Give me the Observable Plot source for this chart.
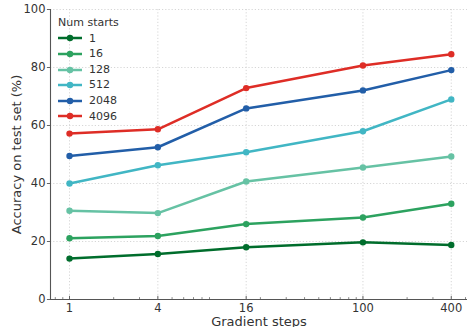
<!DOCTYPE html>
<html>
<head>
<meta charset="utf-8">
<script src="https://cdn.jsdelivr.net/npm/d3@7"></script>
<script src="https://cdn.jsdelivr.net/npm/@observablehq/plot@0.6"></script>
<style>
  html, body { margin: 0; padding: 0; background: #fff; }
  #wrap { position: relative; width: 468px; height: 327px; overflow: hidden; font-family: "DejaVu Sans", sans-serif; }
  #legend { position: absolute; left: 58px; top: 15px; font-size: 11px; color: #333; line-height: 15.6px; }
  #legend .row { display: flex; align-items: center; height: 15.6px; }
  #legend svg { margin-right: 7px; }
</style>
</head>
<body>
<div id="wrap"><div id="legend"></div></div>
<script>
const steps = [1, 4, 16, 100, 400];
const seriesNames = ["1", "16", "128", "512", "2048", "4096"];
const acc1    = [14.1, 15.7, 18.0, 19.7, 18.8];
const acc16   = [21.1, 21.9, 26.0, 28.3, 33.0];
const acc128  = [30.6, 29.8, 40.7, 45.5, 49.3];
const acc512  = [40.0, 46.3, 50.8, 58.0, 69.0];
const acc2048 = [49.5, 52.5, 65.9, 72.1, 79.1];
const acc4096 = [57.2, 58.7, 72.9, 80.7, 84.6];
const colors = ["#006d2c", "#2ca25f", "#66c2a4", "#41b6c4", "#225ea8", "#de2d26"];
const yTicks = [0, 20, 40, 60, 80, 100];
const minorTicks = [0.8, 0.9, 2, 3, 5, 6, 7, 8, 9, 20, 30, 40, 50, 60, 70, 80, 90, 200, 300, 500];
const xLabel = "Gradient steps";
const yLabel = "Accuracy on test set (%)";

const allSeries = [acc1, acc16, acc128, acc512, acc2048, acc4096];
const data = [];
allSeries.forEach((vals, i) => vals.forEach((v, j) => data.push({series: seriesNames[i], step: steps[j], acc: v})));

const xMin = 0.742;
const chart = Plot.plot({
  width: 468,
  height: 327,
  marginLeft: 50,
  marginRight: 1,
  marginTop: 9,
  marginBottom: 28,
  style: {fontFamily: "DejaVu Sans, sans-serif", fontSize: "11px", color: "#333", background: "#fff"},
  x: {type: "log", domain: [xMin, 516], axis: null},
  y: {domain: [0, 100], axis: null},
  color: {domain: seriesNames, range: colors},
  marks: [
    Plot.gridX(steps, {stroke: "#cccccc", strokeOpacity: 1, strokeDasharray: "1.2,2", strokeWidth: 0.8}),
    Plot.gridY(yTicks.filter(d => d > 0), {stroke: "#cccccc", strokeOpacity: 1, strokeDasharray: "1.2,2", strokeWidth: 0.8}),
    Plot.ruleY(yTicks, {y: d => d, x1: xMin / 1.05, x2: xMin, stroke: "#555", strokeWidth: 0.9}),
    Plot.text(yTicks, {y: d => d, text: d => String(d), frameAnchor: "left", textAnchor: "end", dx: -5, fill: "#333", fontSize: 11.5}),
    Plot.text(steps, {x: d => d, y: 0, text: d => String(d), dy: 8.5, lineAnchor: "middle", fill: "#333", fontSize: 11.5}),
    Plot.ruleX(steps, {x: d => d, y1: 0, y2: 1.1, stroke: "#555", strokeWidth: 0.9}),
    Plot.ruleX(minorTicks, {x: d => d, y1: 0, y2: 0.65, stroke: "#555", strokeWidth: 0.7}),
    Plot.ruleY([0], {stroke: "#555", strokeWidth: 1.1}),
    Plot.ruleX([xMin], {stroke: "#555", strokeWidth: 1.1}),
    Plot.line(data, {x: "step", y: "acc", z: "series", stroke: "series", strokeWidth: 2.5}),
    Plot.dot(data, {x: "step", y: "acc", fill: "series", r: 3.2}),
    Plot.text([xLabel], {frameAnchor: "bottom", textAnchor: "middle", lineAnchor: "middle", text: d => d, dy: 22.5, fill: "#333", fontSize: 13}),
    Plot.text([yLabel], {frameAnchor: "left", textAnchor: "middle", lineAnchor: "middle", text: d => d, rotate: -90, dx: -34, fill: "#333", fontSize: 13})
  ]
});
document.getElementById("wrap").prepend(chart);

const legend = document.getElementById("legend");
legend.innerHTML = `<div class="row">Num starts</div>` + seriesNames.map((n, i) =>
  `<div class="row"><svg width="24" height="10"><line x1="0" x2="24" y1="5" y2="5" stroke="${colors[i]}" stroke-width="2.5"/><circle cx="12" cy="5" r="3.2" fill="${colors[i]}"/></svg><span>${n}</span></div>`
).join("");
</script>
</body>
</html>
